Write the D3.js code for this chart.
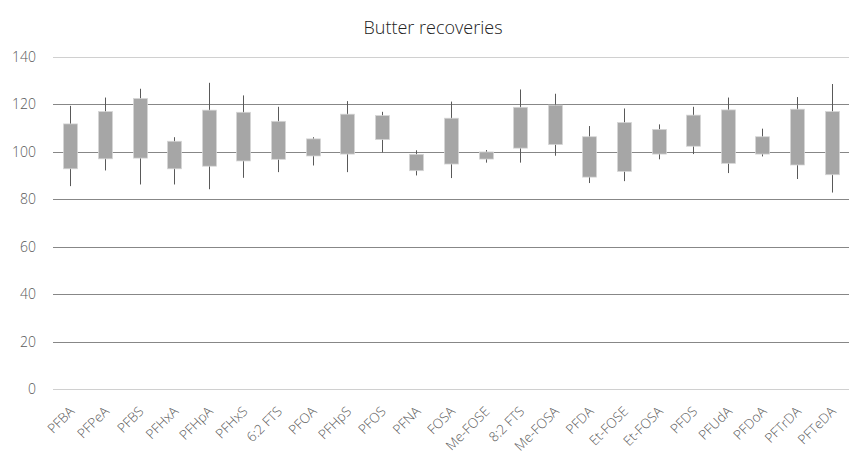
<!DOCTYPE html>
<html>
<head>
<meta charset="utf-8">
<script src="https://cdn.jsdelivr.net/npm/d3@7"></script>
<style>
  html, body { margin: 0; padding: 0; background: #fff; }
  svg { display: block; }
  text { font-family: "Open Sans", "Segoe UI", Lato, sans-serif; }
</style>
</head>
<body>
<svg id="chart" width="857" height="465"></svg>
<script>
const categories = ["PFBA","PFPeA","PFBS","PFHxA","PFHpA","PFHxS","6:2 FTS","PFOA","PFHpS","PFOS","PFNA","FOSA","Me-FOSE","8:2 FTS","Me-FOSA","PFDA","Et-FOSE","Et-FOSA","PFDS","PFUdA","PFDoA","PFTrDA","PFTeDA"];
const highValues = [119.3,122.8,126.5,106.1,129.0,123.7,118.9,106.1,121.3,116.8,100.6,121.1,100.7,126.2,124.4,110.8,118.2,111.5,118.9,122.8,109.7,123.0,128.5];
const boxTop     = [111.7,116.9,122.4,104.4,117.5,116.6,112.8,105.4,115.8,115.2,98.9,114.1,99.9,118.7,119.6,106.3,112.3,109.4,115.4,117.6,106.3,117.9,116.9];
const boxBottom  = [92.8,97.0,97.3,92.8,93.9,96.1,96.8,98.2,99.0,105.1,92.0,94.8,96.9,101.5,103.0,89.3,91.7,99.0,102.3,95.1,99.0,94.4,90.3];
const lowValues  = [85.5,92.1,86.2,86.2,84.2,89.0,91.4,94.2,91.4,99.7,90.0,88.9,95.4,95.4,98.3,86.8,87.6,96.8,99.0,91.0,98.0,88.5,82.8];
const yTicks = [0,20,40,60,80,100,120,140];
const title = "Butter recoveries";

const svg = d3.select("#chart");
const mLeft = 53, mRight = 849, mTop = 56.7, mBottom = 389.2;

const x = d3.scaleBand().domain(categories).range([mLeft, mRight]).paddingInner(0).paddingOuter(0);
const y = d3.scaleLinear().domain([0, 140]).range([mBottom, mTop]);

// title
svg.append("text")
  .attr("x", 433).attr("y", 34)
  .attr("text-anchor", "middle")
  .attr("font-size", "18px")
  .attr("font-weight", 300)
  .attr("fill", "#222")
  .text(title);

// gridlines
svg.append("g").selectAll("line").data(yTicks).join("line")
  .attr("x1", mLeft).attr("x2", mRight)
  .attr("y1", d => Math.round(y(d)) + 0.5).attr("y2", d => Math.round(y(d)) + 0.5)
  .attr("stroke", d => (d === 0 || d === 140) ? "#d0d0d0" : "#878787")
  .attr("stroke-width", 1);

// y axis labels
const yAxis = d3.axisLeft(y).tickValues(yTicks).tickSize(0).tickPadding(0);
const gy = svg.append("g").attr("transform", `translate(${mLeft - 17},0)`).call(yAxis);
gy.select(".domain").remove();
gy.selectAll("text")
  .attr("font-size", "14px")
  .attr("font-weight", 300)
  .attr("fill", "#595959")
  .style("font-family", '"Open Sans", "Segoe UI", sans-serif');

// x axis labels, rotated -45 degrees
const xAxis = d3.axisBottom(x).tickSize(0).tickPadding(0);
const gx = svg.append("g").attr("transform", `translate(0,${mBottom})`).call(xAxis);
gx.select(".domain").remove();
gx.selectAll(".tick text")
  .attr("x", 0).attr("y", 0).attr("dy", null)
  .attr("transform", "translate(5,23) rotate(-45)")
  .attr("text-anchor", "end")
  .attr("font-size", "13.5px")
  .attr("font-weight", 300)
  .attr("fill", "#595959")
  .style("font-family", '"Open Sans", "Segoe UI", sans-serif');

const bw = 14;
const cx = d => Math.round(x(d) + x.bandwidth() / 2);

// whiskers (high-low lines)
svg.append("g").selectAll("line").data(categories).join("line")
  .attr("x1", d => cx(d) + 0.5).attr("x2", d => cx(d) + 0.5)
  .attr("y1", (d, i) => y(highValues[i]))
  .attr("y2", (d, i) => y(lowValues[i]))
  .attr("stroke", "#595959").attr("stroke-width", 1);

// boxes
svg.append("g").selectAll("rect").data(categories).join("rect")
  .attr("x", d => cx(d) - bw / 2 + 0.5)
  .attr("width", bw)
  .attr("y", (d, i) => y(boxTop[i]))
  .attr("height", (d, i) => y(boxBottom[i]) - y(boxTop[i]))
  .attr("fill", "#a6a6a6")
  .attr("stroke", "#d6d6d6").attr("stroke-width", 0.75);
</script>
</body>
</html>
